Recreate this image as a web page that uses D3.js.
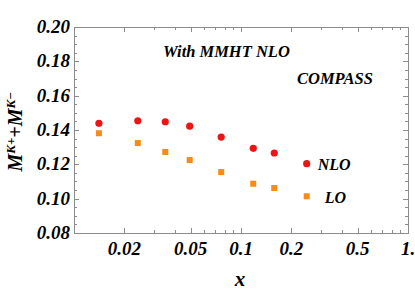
<!DOCTYPE html>
<html>
<head>
<meta charset="utf-8">
<script src="https://cdn.jsdelivr.net/npm/d3@7"></script>
<style>
  body { margin: 0; background: #fff; }
</style>
</head>
<body>
<svg id="chart1"></svg>
<script>
// data
var xBins = [0.0141, 0.0241, 0.0352, 0.0493, 0.0761, 0.1184, 0.1582];
var nloValues = [0.1439, 0.1454, 0.1448, 0.1422, 0.1359, 0.1293, 0.1266];
var loValues = [0.1381, 0.1324, 0.1272, 0.1225, 0.1155, 0.1087, 0.1062];
var xTickValues = [0.02, 0.05, 0.1, 0.2, 0.5, 1];
var xTickLabels = ["0.02", "0.05", "0.1", "0.2", "0.5", "1."];
var yTickValues = [0.08, 0.10, 0.12, 0.14, 0.16, 0.18, 0.20];
var legendNames = ["NLO", "LO"];

var W = 415, H = 292;
var margin = {top: 27, right: 7, bottom: 59, left: 74},
    width = W - margin.left - margin.right,
    height = H - margin.top - margin.bottom;

var serif = "'Liberation Serif', 'Times New Roman', Tinos, 'DejaVu Serif', serif";

var svg = d3.select("#chart1")
    .attr("width", W)
    .attr("height", H)
    .attr("font-family", serif)
    .attr("font-weight", "bold")
    .attr("font-style", "italic")
  .append("g")
    .attr("transform", "translate(" + margin.left + "," + margin.top + ")");

var x = d3.scaleLog().domain([0.01, 1]).range([0, width]);
var y = d3.scaleLinear().domain([0.08, 0.20]).range([height, 0]);

var frameColor = "#8c8c8c";

// minor ticks
var xMinor = [];
[0.01, 0.1].forEach(function(dec) {
  for (var k = 1; k < 10; k++) {
    var v = +(dec * k).toFixed(3);
    if (xTickValues.indexOf(v) < 0 && v > 0.01) xMinor.push(v);
  }
});
var yMinor = d3.range(0.085, 0.2, 0.005).filter(function(v) {
  return Math.abs(Math.round(v * 100) - v * 100) > 0.01 || Math.round(v * 100) % 2 == 1;
});

var tickG = svg.append("g").attr("stroke", frameColor).attr("stroke-width", 1);

function xTicks(vals, len) {
  vals.forEach(function(v) {
    var px = Math.round(x(v)) + 0.5;
    tickG.append("line").attr("x1", px).attr("x2", px).attr("y1", height).attr("y2", height - len);
    tickG.append("line").attr("x1", px).attr("x2", px).attr("y1", 0).attr("y2", len);
  });
}
function yTicks(vals, len) {
  vals.forEach(function(v) {
    var py = Math.round(y(v)) + 0.5;
    tickG.append("line").attr("x1", 0).attr("x2", len).attr("y1", py).attr("y2", py);
    tickG.append("line").attr("x1", width).attr("x2", width - len).attr("y1", py).attr("y2", py);
  });
}
xTicks(xTickValues, 5);
xTicks(xMinor, 3);
yTicks(yTickValues, 5);
yTicks(yMinor, 3);

// frame
svg.append("rect")
    .attr("x", 0.5).attr("y", 0.5)
    .attr("width", width).attr("height", height)
    .attr("fill", "none")
    .attr("stroke", frameColor)
    .attr("stroke-width", 1);

// tick labels
svg.append("g").selectAll("text")
    .data(xTickValues)
    .enter()
    .append("text")
      .attr("x", function(d) { return x(d); })
      .attr("y", height + 22)
      .attr("text-anchor", "middle")
      .attr("font-size", 19)
      .text(function(d, i) { return xTickLabels[i]; });

svg.append("g").selectAll("text")
    .data(yTickValues)
    .enter()
    .append("text")
      .attr("x", -4)
      .attr("y", function(d) { return y(d) + 6; })
      .attr("text-anchor", "end")
      .attr("font-size", 19)
      .text(function(d) { return d.toFixed(2); });

// axis titles
svg.append("text")
    .attr("x", x(0.1) - 1)
    .attr("y", height + 53)
    .attr("text-anchor", "middle")
    .attr("font-size", 21)
    .text("x");

var yt = svg.append("text")
    .attr("transform", "translate(" + (-52) + "," + (height / 2 + 2) + ") rotate(-90)")
    .attr("text-anchor", "middle")
    .attr("font-size", 20);
yt.append("tspan").text("M");
yt.append("tspan").attr("dy", -7).attr("font-size", 13).text("K");
yt.append("tspan").attr("font-size", 13).attr("font-style", "normal").text("+");
yt.append("tspan").attr("dy", 7).text("+M");
yt.append("tspan").attr("dy", -7).attr("font-size", 13).text("K");
yt.append("tspan").attr("font-size", 13).attr("font-style", "normal").text("\u2212");

// annotations
svg.append("text")
    .attr("x", 89).attr("y", 30)
    .attr("font-size", 16.5)
    .text("With MMHT NLO");
svg.append("text")
    .attr("x", 223).attr("y", 57)
    .attr("font-size", 16.5)
    .text("COMPASS");

var red = "#ee1414", orange = "#f98a18";

// NLO points
svg.append("g")
  .selectAll("circle")
  .data(xBins)
  .enter()
  .append("circle")
    .attr("cx", function(d) { return x(d); })
    .attr("cy", function(d, i) { return y(nloValues[i]); })
    .attr("r", 3.6)
    .style("fill", red);

// LO points
svg.append("g")
  .selectAll("rect")
  .data(xBins)
  .enter()
  .append("rect")
    .attr("x", function(d) { return x(d) - 3; })
    .attr("y", function(d, i) { return y(loValues[i]) - 3; })
    .attr("width", 6)
    .attr("height", 6)
    .style("fill", orange);

// legend
var lg = svg.append("g").attr("transform", "translate(" + (306.7 - margin.left) + "," + (163.7 - margin.top) + ")");
lg.append("circle").attr("cx", 0).attr("cy", 0).attr("r", 3.6).style("fill", red);
lg.append("text").attr("x", 11).attr("y", 6).attr("font-size", 16).text(legendNames[0]);
lg.append("rect").attr("x", -3).attr("y", 29.6).attr("width", 6).attr("height", 6).style("fill", orange);
lg.append("text").attr("x", 18).attr("y", 39.5).attr("font-size", 16).text(legendNames[1]);
</script>
</body>
</html>
